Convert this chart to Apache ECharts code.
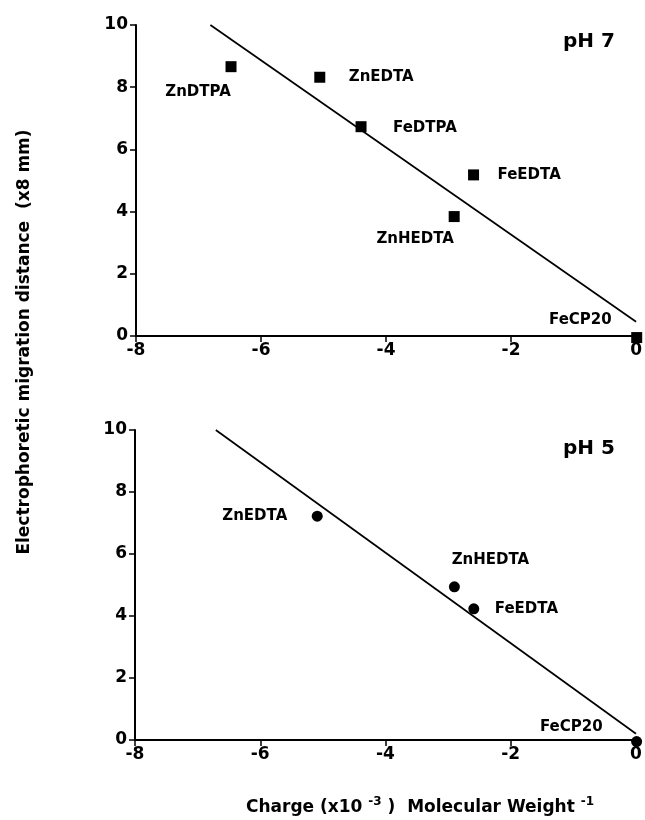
<!DOCTYPE html>
<html>
<head>
<meta charset="utf-8">
<script src="https://cdn.jsdelivr.net/npm/echarts@6/dist/echarts.min.js"></script>
<style>
  html, body { margin: 0; padding: 0; background: #fff; }
  #chart { width: 645px; height: 820px; }
</style>
</head>
<body>
<div id="chart"></div>
<script>
// pH 7 panel
const namesPH7 = ["ZnDTPA", "ZnEDTA", "FeDTPA", "FeEDTA", "ZnHEDTA", "FeCP20"];
const xPH7 = [-6.48, -5.06, -4.4, -2.6, -2.91, 0.01];
const yPH7 = [8.66, 8.32, 6.73, 5.18, 3.84, -0.05];
const fitX7 = [-6.81, 0];
const fitY7 = [10, 0.46];

// pH 5 panel
const namesPH5 = ["ZnEDTA", "ZnHEDTA", "FeEDTA", "FeCP20"];
const xPH5 = [-5.09, -2.9, -2.59, 0.01];
const yPH5 = [7.22, 4.94, 4.23, -0.05];
const fitX5 = [-6.71, 0];
const fitY5 = [10, 0.2];

const xTicks = [-8, -6, -4, -2, 0];
const yTicks = [0, 2, 4, 6, 8, 10];

// where each point label sits relative to its marker
const labelPos7 = {
  ZnDTPA: { align: "center", dx: -33, dy: 25 },
  ZnEDTA: { align: "left", dx: 29, dy: 0 },
  FeDTPA: { align: "left", dx: 32, dy: 1 },
  FeEDTA: { align: "left", dx: 24, dy: 0 },
  ZnHEDTA: { align: "center", dx: -39, dy: 23 },
  FeCP20: { align: "right", dx: -25, dy: -17 },
};
const labelPos5 = {
  ZnEDTA: { align: "right", dx: -30, dy: 0 },
  ZnHEDTA: { align: "center", dx: 36, dy: -27 },
  FeEDTA: { align: "left", dx: 21, dy: 0 },
  FeCP20: { align: "right", dx: -34, dy: -14 },
};

const FONT = "DejaVu Sans";

const pointData = (names, xs, ys, pos) =>
  names.map((n, i) => ({
    name: n,
    value: [xs[i], ys[i]],
    label: {
      show: true,
      position: "inside",
      formatter: n,
      align: pos[n].align,
      verticalAlign: "middle",
      offset: [pos[n].dx, pos[n].dy],
      color: "#000",
      opacity: 1,
      fontFamily: FONT,
      fontWeight: "bold",
      fontSize: 15,
    },
  }));

const axisX = (gridIndex) => ({
  type: "value",
  gridIndex: gridIndex,
  min: xTicks[0],
  max: xTicks[xTicks.length - 1],
  interval: 2,
  splitLine: { show: false },
  axisLine: { onZero: false, lineStyle: { color: "#000", width: 2 } },
  axisTick: { show: true, length: 6, lineStyle: { color: "#000", width: 1.5 } },
  axisLabel: {
    color: "#000",
    fontFamily: FONT,
    fontWeight: "bold",
    fontSize: 17,
    margin: 6,
  },
});

const axisY = (gridIndex) => ({
  type: "value",
  gridIndex: gridIndex,
  min: yTicks[0],
  max: yTicks[yTicks.length - 1],
  interval: 2,
  splitLine: { show: false },
  axisLine: { onZero: false, lineStyle: { color: "#000", width: 2 } },
  axisTick: { show: true, length: 6, lineStyle: { color: "#000", width: 1.5 } },
  axisLabel: {
    color: "#000",
    fontFamily: FONT,
    fontWeight: "bold",
    fontSize: 17,
    margin: 8,
  },
});

const myChart = echarts.init(document.getElementById("chart"));

myChart.setOption({
  animation: false,
  backgroundColor: "#fff",
  grid: [
    { left: 136, top: 25, width: 501, height: 311 },
    { left: 135, top: 430, width: 501, height: 310 },
  ],
  xAxis: [axisX(0), axisX(1)],
  yAxis: [axisY(0), axisY(1)],
  graphic: [
    {
      type: "text",
      left: 563,
      top: 32,
      style: {
        text: "pH 7",
        fontFamily: FONT,
        fontWeight: "bold",
        fontSize: 20,
        fill: "#000",
      },
    },
    {
      type: "text",
      left: 563,
      top: 439,
      style: {
        text: "pH 5",
        fontFamily: FONT,
        fontWeight: "bold",
        fontSize: 20,
        fill: "#000",
      },
    },
    {
      type: "text",
      x: 25,
      y: 342,
      rotation: Math.PI / 2,
      style: {
        text: "Electrophoretic migration distance  (x8 mm)",
        align: "center",
        verticalAlign: "middle",
        fontFamily: FONT,
        fontWeight: "bold",
        fontSize: 17,
        fill: "#000",
      },
    },
    {
      type: "text",
      x: 420,
      y: 808,
      style: {
        text: "{n|Charge (x10 }{s|-3}{n| )  Molecular Weight }{s|-1}",
        align: "center",
        verticalAlign: "middle",
        rich: {
          n: { fontFamily: FONT, fontWeight: "bold", fontSize: 17, color: "#000" },
          s: {
            fontFamily: FONT,
            fontWeight: "bold",
            fontSize: 12,
            color: "#000",
            padding: [0, 0, 13, 0],
          },
        },
      },
    },
  ],
  series: [
    {
      type: "line",
      xAxisIndex: 0,
      yAxisIndex: 0,
      data: fitX7.map((x, i) => [x, fitY7[i]]),
      symbol: "none",
      clip: false,
      lineStyle: { color: "#000", width: 1.7 },
    },
    {
      type: "scatter",
      xAxisIndex: 0,
      yAxisIndex: 0,
      symbol: "rect",
      symbolSize: 11,
      clip: false,
      itemStyle: { color: "#000", opacity: 1 },
      data: pointData(namesPH7, xPH7, yPH7, labelPos7),
    },
    {
      type: "line",
      xAxisIndex: 1,
      yAxisIndex: 1,
      data: fitX5.map((x, i) => [x, fitY5[i]]),
      symbol: "none",
      clip: false,
      lineStyle: { color: "#000", width: 1.7 },
    },
    {
      type: "scatter",
      xAxisIndex: 1,
      yAxisIndex: 1,
      symbol: "circle",
      symbolSize: 11,
      clip: false,
      itemStyle: { color: "#000", opacity: 1 },
      data: pointData(namesPH5, xPH5, yPH5, labelPos5),
    },
  ],
});
</script>
</body>
</html>
